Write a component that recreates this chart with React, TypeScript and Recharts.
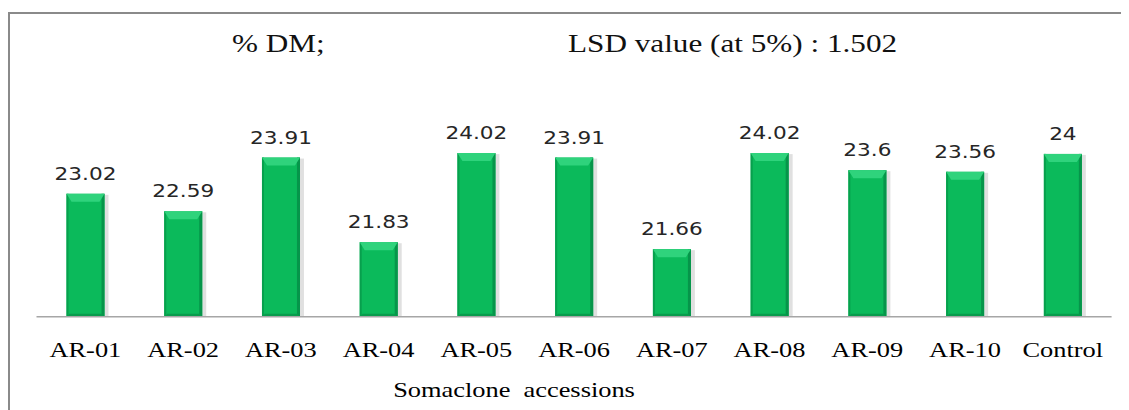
import React from 'react';
import { BarChart, Bar, XAxis, YAxis, LabelList, Customized } from 'recharts';

const categories = ['AR-01', 'AR-02', 'AR-03', 'AR-04', 'AR-05', 'AR-06', 'AR-07', 'AR-08', 'AR-09', 'AR-10', 'Control'];
const dmValues = [23.02, 22.59, 23.91, 21.83, 24.02, 23.91, 21.66, 24.02, 23.6, 23.56, 24];
const valueLabels = ['23.02', '22.59', '23.91', '21.83', '24.02', '23.91', '21.66', '24.02', '23.6', '23.56', '24'];
const yDomain = [20, 26];
const titleLeft = '% DM;';
const titleRight = 'LSD value (at 5%) : 1.502';
const xAxisTitle = 'Somaclone  accessions';

const data = categories.map((c, i) => ({ name: c, value: dmValues[i], label: valueLabels[i] }));

const W = 1121;
const H = 402;
const SX = 1.2;
const SERIF = 'Liberation Serif';

const BevelBar = (props: any) => {
  const { x, y, width, height } = props;
  if (!height || height <= 0) return null;
  const b = Math.min(8, height / 2);
  return (
    <g>
      <rect x={x + 2} y={y + 1} width={width + 2} height={height - 1} fill="rgba(0,0,0,0.12)" />
      <rect x={x} y={y} width={width} height={height} fill="#0BBA5B" />
      <rect x={x} y={y} width={2} height={height} fill="#07A04D" />
      <rect x={x + width - 3} y={y} width={3} height={height} fill="#06954A" />
      <polygon points={`${x},${y} ${x + width},${y} ${x + width - 5},${y + b} ${x + 5},${y + b}`} fill="#2FD37C" />
      <polygon points={`${x},${y + height} ${x + width},${y + height} ${x + width - 3},${y + height - 3} ${x + 3},${y + height - 3}`} fill="#089C4C" />
    </g>
  );
};

const ValueLabel = (props: any) => {
  const { x, y, width, value } = props;
  const cx = x + width / 2;
  return (
    <text
      transform={`translate(${cx},${y - 14}) scale(${SX},1)`}
      textAnchor="middle"
      fontFamily="DejaVu Sans"
      fontSize={18}
      fill="#262626"
    >
      {value}
    </text>
  );
};

const CatTick = (props: any) => {
  const { x, y, payload } = props;
  return (
    <text
      transform={`translate(${x},${y + 40}) scale(${SX},1)`}
      textAnchor="middle"
      fontFamily={SERIF}
      fontSize={22}
      fill="#000"
    >
      {payload.value}
    </text>
  );
};

const Decorations = () => (
  <g>
    <line x1={0} y1={5} x2={W} y2={5} stroke="#8A8A8A" strokeWidth={2} />
    <line x1={1} y1={5} x2={1} y2={H} stroke="#8A8A8A" strokeWidth={2} />
    <text transform={`translate(224,44) scale(${SX},1)`} fontFamily={SERIF} fontSize={26} fill="#111">
      {titleLeft}
    </text>
    <text transform={`translate(560,44) scale(${SX},1)`} fontFamily={SERIF} fontSize={26} fill="#111">
      {titleRight}
    </text>
    <text
      transform={`translate(506,389) scale(${SX},1)`}
      textAnchor="middle"
      fontFamily={SERIF}
      fontSize={22}
      fill="#000"
      style={{ whiteSpace: 'pre' }}
    >
      {xAxisTitle}
    </text>
  </g>
);

export default function App() {
  return (
    <div style={{ width: W, height: H, background: '#fff' }}>
      <BarChart
        width={W}
        height={H}
        data={data}
        margin={{ top: 64.5, right: 17.4, bottom: 0, left: 28.5 }}
      >
        <Customized component={Decorations} />
        <YAxis hide domain={yDomain} allowDataOverflow type="number" />
        <XAxis
          dataKey="name"
          height={93.3}
          axisLine={{ stroke: '#A6A6A6', strokeWidth: 1.5 }}
          tickLine={false}
          tickSize={0}
          tickMargin={0}
          interval={0}
          tick={<CatTick />}
        />
        <Bar dataKey="value" barSize={38} shape={<BevelBar />} isAnimationActive={false}>
          <LabelList dataKey="label" content={<ValueLabel />} />
        </Bar>
      </BarChart>
    </div>
  );
}
